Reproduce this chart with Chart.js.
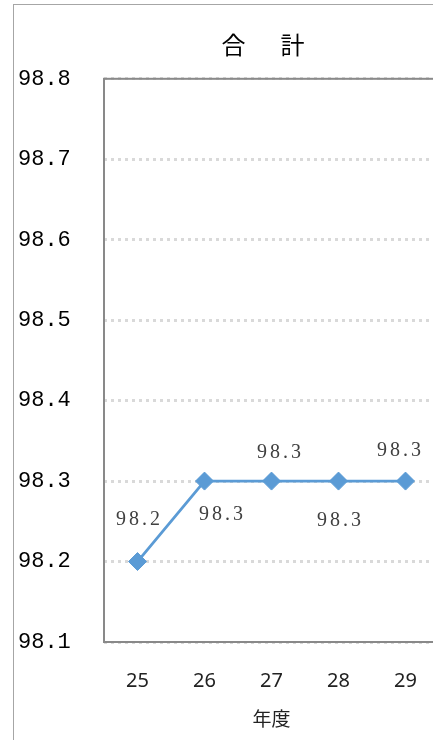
<!DOCTYPE html>
<html>
<head>
<meta charset="utf-8">
<script src="https://cdn.jsdelivr.net/npm/chart.js@4"></script>
<style>
html, body { margin: 0; padding: 0; overflow: hidden; background: #fff; width: 433px; height: 740px; }
#frame { position: absolute; left: 13px; top: 4px; width: 520px; height: 760px; border-left: 1px solid #a6a6a6; border-top: 1px solid #a6a6a6; }
#wrap { position: absolute; left: 0; top: 0; width: 494px; height: 735px; }
</style>
</head>
<body>
<div id="frame"><div id="wrap"><canvas id="totalChart"></canvas></div></div>
<script>
const years = ['25', '26', '27', '28', '29'];
const totals = [98.2, 98.3, 98.3, 98.3, 98.3];
const yMin = 98.1;
const yMax = 98.8;
const yStep = 0.1;

const ctx = document.getElementById('totalChart');

// outer frame of the plot area
const plotFrame = {
    id: 'plotFrame',
    beforeDatasetsDraw: (chart) => {
        const c = chart.ctx;
        const { left, top, right, bottom } = chart.chartArea;
        c.save();
        c.strokeStyle = '#898989';
        c.lineWidth = 2;
        c.strokeRect(left, top, right - left, bottom - top);
        c.restore();
    }
};

// value labels next to each point
const valueLabels = {
    id: 'valueLabels',
    afterDatasetsDraw: (chart, args, opts) => {
        const c = chart.ctx;
        const meta = chart.getDatasetMeta(0);
        c.save();
        c.font = opts.font;
        c.fillStyle = opts.color;
        c.textAlign = 'center';
        c.textBaseline = 'middle';
        c.letterSpacing = opts.spacing;
        meta.data.forEach((pt, i) => {
            const off = opts.offsets[i];
            c.fillText(totals[i].toFixed(1), pt.x + off[0], pt.y + off[1]);
        });
        c.restore();
    }
};

Chart.defaults.font.family = '"Noto Sans CJK JP", "Noto Sans", sans-serif';

const config = {
    type: 'line',
    data: {
        labels: years,
        datasets: [{
            data: totals,
            borderColor: '#5b9bd5',
            backgroundColor: '#5b9bd5',
            borderWidth: 2.8,
            pointStyle: 'rectRot',
            pointRadius: 9,
            pointBorderWidth: 1,
            tension: 0,
            fill: false
        }]
    },
    options: {
        responsive: true,
        maintainAspectRatio: false,
        animation: false,
        layout: { padding: { left: 4, top: 0, right: 0, bottom: 0 } },
        scales: {
            x: {
                offset: true,
                grid: { display: false, drawTicks: false },
                border: { display: false },
                ticks: {
                    padding: 27,
                    color: '#222',
                    font: { family: '"Noto Sans", sans-serif', size: 20 }
                },
                title: {
                    display: true,
                    text: '年度',
                    color: '#222',
                    font: { size: 19 },
                    padding: { top: 16, bottom: 10 }
                },
                afterFit: s => { s.height = 98; }
            },
            y: {
                min: yMin,
                max: yMax,
                grid: { color: '#d9d9d9', lineWidth: 3, drawTicks: false },
                border: { display: false, dash: [3, 4] },
                ticks: {
                    stepSize: yStep,
                    crossAlign: 'far',
                    color: '#000',
                    font: { family: '"Liberation Mono", monospace', size: 22 },
                    callback: v => Number(v).toFixed(1)
                },
                afterFit: s => { s.width = 86; }
            },
            y2: {
                position: 'right',
                grid: { display: false },
                border: { display: false },
                ticks: { display: false },
                afterFit: s => { s.width = 69; }
            }
        },
        plugins: {
            legend: { display: false },
            tooltip: { enabled: false },
            title: {
                display: true,
                text: '合 　 計',
                color: '#000',
                font: { size: 24, weight: 'normal' },
                padding: { top: 25, bottom: 20 }
            },
            valueLabels: {
                font: '20px "Liberation Serif", serif',
                color: '#404040',
                spacing: '3px',
                offsets: [[2, -42], [18, 34], [9, -28], [2, 40], [-5, -30]]
            }
        }
    },
    plugins: [plotFrame, valueLabels]
};

const totalChart = new Chart(ctx.getContext('2d'), config);
</script>
</body>
</html>
